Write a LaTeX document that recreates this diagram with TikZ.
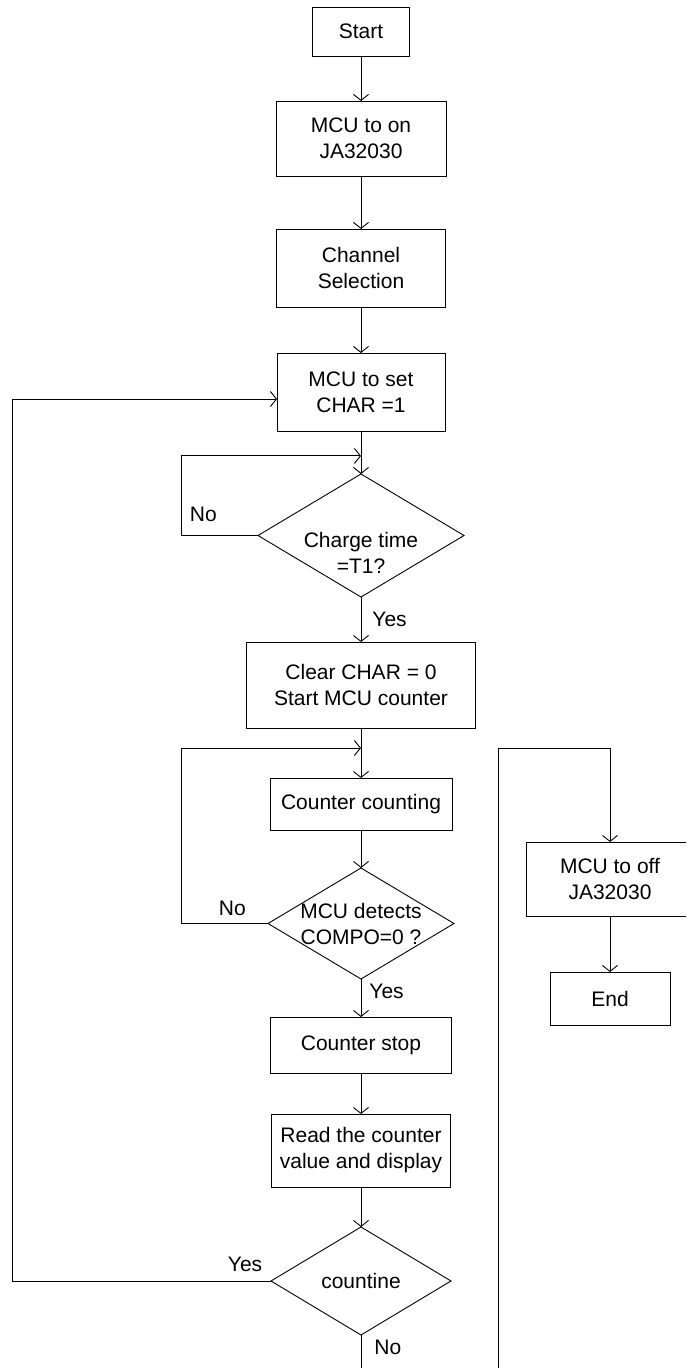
\documentclass[tikz,border=0pt]{standalone}
\usepackage{fontspec}
\setmainfont{Liberation Sans}
\usepackage{tikz}
\usetikzlibrary{shapes.geometric,arrows.meta,positioning,calc}
\tikzset{
  procbox/.style = {rectangle, draw, line width=0.9pt, align=center, outer sep=0pt,
    font=\fontsize{21}{26}\selectfont, inner sep=0pt},
  decision/.style = {diamond, draw, line width=0.9pt, align=center, aspect=1.67, outer sep=0pt,
    font=\fontsize{21}{26}\selectfont, inner sep=-4pt},
  lbl/.style = {font=\fontsize{21}{26}\selectfont, inner sep=0pt},
  arrow/.style = {line width=0.9pt, -{Straight Barb[length=6pt,width=15pt]}}
}

\begin{document}
\begin{tikzpicture}[x=1pt, y=1pt]

\useasboundingbox (0,0) rectangle (686,-1368);
\clip (0,0) rectangle (686,-1368);

% main column
\node[procbox, minimum width=97pt, minimum height=49pt] (start) at (361,-31.5) {Start};
\node[procbox, minimum width=170pt, minimum height=75pt, below=45pt of start] (mcuon) {MCU to on\\JA32030};
\node[procbox, minimum width=169pt, minimum height=78pt, below=53pt of mcuon] (chansel) {Channel\\Selection};
\node[procbox, minimum width=168pt, minimum height=78pt, below=46pt of chansel] (mcuset) {MCU to set\\CHAR =1};
\node[decision, minimum width=206pt, minimum height=123pt, below=43pt of mcuset] (chargechk)
  {\raisebox{-25pt}[0pt][0pt]{\begin{tabular}{@{}c@{}}Charge time\\=T1?\end{tabular}}};
\node[procbox, minimum width=229pt, minimum height=86pt, below=45pt of chargechk] (clearchar) {Clear CHAR = 0\\Start MCU counter};
\node[procbox, minimum width=182pt, minimum height=52pt, below=50pt of clearchar] (counting) {Counter counting};
\node[decision, minimum width=186pt, minimum height=111pt, below=38pt of counting] (compochk) {MCU detects\\COMPO=0 ?};
\node[procbox, minimum width=181pt, minimum height=56pt, below=38pt of compochk] (cntstop) {Counter stop};
\node[procbox, minimum width=179pt, minimum height=73pt, below=41pt of cntstop] (readval) {Read the counter\\value and display};
\node[decision, minimum width=180pt, minimum height=108pt, below=40pt of readval] (contchk) {countine};

% right column
\node[procbox, minimum width=168pt, minimum height=74pt] (mcuoff) at (610,-879) {MCU to off\\JA32030};
\node[procbox, minimum width=120pt, minimum height=53pt, below=56pt of mcuoff] (endbox) {End};

\coordinate (loopa) at ($(mcuset.south)!0.58!(chargechk.north)$);
\coordinate (loopb) at ($(clearchar.south)!0.4!(counting.north)$);
\coordinate (farleft) at (12,0);
\coordinate (rgtline) at (498,-748);

\draw[arrow] (start) -- (mcuon);
\draw[arrow] (mcuon) -- (chansel);
\draw[arrow] (chansel) -- (mcuset);
\draw[arrow] (mcuset) -- (chargechk);
\draw[arrow] (chargechk.west) -- node[lbl, above=13pt, pos=.71] {No} ++(-77,0) |- (loopa);
\draw[arrow] (chargechk) -- node[lbl, right=11pt] {Yes} (clearchar);
\draw[arrow] (clearchar) -- (counting);
\draw[arrow] (counting) -- (compochk);
\draw[arrow] (compochk.west) -- node[lbl, above=7pt, pos=.41] {No} ++(-87,0) |- (loopb);
\draw[arrow] (compochk) -- node[lbl, right=8pt, pos=.33] {Yes} (cntstop);
\draw[arrow] (cntstop) -- (readval);
\draw[arrow] (readval) -- (contchk);
\draw[arrow] (contchk.west) -- node[lbl, above=9pt, pos=.1] {Yes} (contchk.west -| farleft) |- ([yshift=-7pt]mcuset.west);
\draw[arrow] (contchk.south) -- node[lbl, right=13pt, pos=.2] {No} ++(0,-60) -| (rgtline) -| (mcuoff.north);
\draw[arrow] (mcuoff) -- (endbox);

\end{tikzpicture}
\end{document}
